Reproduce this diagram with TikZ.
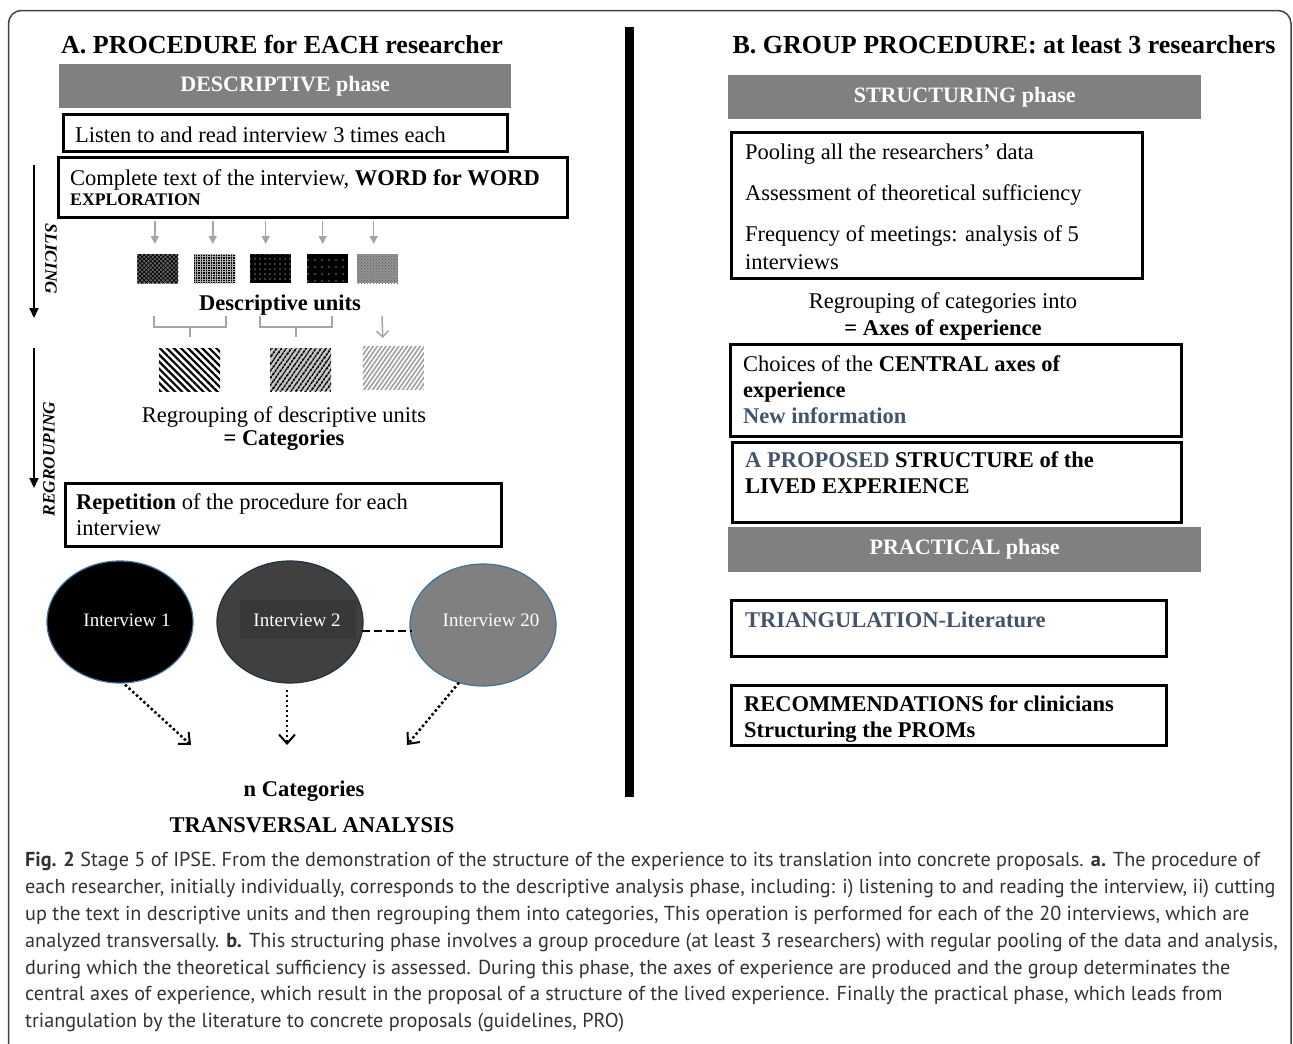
\documentclass[tikz,border=0pt]{standalone}
\usepackage{fontspec}
\setmainfont{Liberation Serif}
\newfontfamily\capfont{PT Sans}
\usetikzlibrary{patterns,patterns.meta,arrows.meta,shapes.geometric,calc}
\definecolor{phasegray}{RGB}{128,128,128}
\definecolor{navyg}{RGB}{68,84,106}
\definecolor{ellblue}{RGB}{65,113,156}
\definecolor{capgray}{RGB}{50,50,50}
\definecolor{darkell}{RGB}{64,64,64}
\definecolor{darkrect}{RGB}{56,56,56}
\definecolor{lightarrow}{RGB}{165,165,165}
\newcommand\fsz[2]{\fontsize{#1pt}{#2pt}\selectfont}
\tikzset{
  phasebar/.style={fill=phasegray, text=white, font=\bfseries\fsz{22}{26}, inner sep=0, anchor=north west},
  framebox/.style={draw=black, line width=3pt, inner sep=0, anchor=north west},
  txt/.style={anchor=base west, inner sep=0, font=\fsz{22.5}{26}},
  ctxt/.style={anchor=base, inner sep=0, font=\fsz{22.5}{26}},
  ttl/.style={anchor=base, inner sep=0, font=\bfseries\fsz{26}{30}},
  unitsq/.style={anchor=north west, inner sep=0, minimum width=41pt, minimum height=29pt},
  catsq/.style={anchor=north west, inner sep=0, minimum width=61pt, minimum height=43pt},
  grayarrow/.style={draw=lightarrow, line width=1.5pt, -{Triangle[length=8pt,width=8pt]}},
  graybrace/.style={draw=lightarrow, line width=1.5pt},
  ell/.style={ellipse, inner sep=0, minimum width=146pt, minimum height=122pt, line width=1.2pt},
  inttext/.style={anchor=center, inner sep=0, text=white, font=\fsz{19}{22}},
  sidearrow/.style={line width=2pt, -{Triangle[length=10pt,width=9pt]}},
  sidelabel/.style={inner sep=0, font=\bfseries\itshape\fsz{17.3}{20}},
  dotarrow/.style={line width=2.5pt, dash pattern=on 2.5pt off 2.5pt, -{Straight Barb[length=9pt,width=16pt,line width=2pt]}},
  capline/.style={anchor=base west, inner sep=0, text=capgray, font=\capfont\fsz{20.2}{26}},
}
\begin{document}
\begin{tikzpicture}[x=1pt,y=-1pt]
\useasboundingbox (0,0) rectangle (1293,1044);
% outer frame
\draw[line width=1.5pt, black!75, rounded corners=13pt] (8.5,1044) -- (8.5,10.5) -- (1291,10.5) -- (1291,1044);

% ===== Left panel =====
\node[ttl] (ta) at (282,53) {A. PROCEDURE for EACH researcher};
\node[phasebar, minimum width=452pt, minimum height=44pt] (desc) at (59,64) {DESCRIPTIVE phase};
\node[framebox, minimum width=444pt, minimum height=37pt] (b1) at (61.5,112.5) {};
\node[txt] (t1) at (75,142) {Listen to and read interview 3 times each};
\node[framebox, minimum width=509pt, minimum height=60pt] (b2) at (56.5,155.5) {};
\node[txt] (t2) at (70,185) {Complete text of the interview, \textbf{WORD for WORD}};
\node[txt, font=\bfseries\fsz{17.7}{20}] (t2b) at (70,205) {EXPLORATION};

% descriptive unit squares
\node[unitsq, preaction={fill=black!60}, pattern={Hatch[angle=45,distance=3pt,line width=0.7pt]}, pattern color=black] (sq1) at (137,254) {};
\node[unitsq, preaction={fill=black}, pattern={Hatch[angle=0,distance=2.5pt,line width=0.5pt]}, pattern color=gray!60] (sq2) at (194,254) {};
\node[unitsq, preaction={fill=black}, pattern={Dots[distance=5pt,radius=0.7pt]}, pattern color=white] (sq3) at (250,254) {};
\node[unitsq, preaction={fill=black}, pattern={Dots[distance=7pt,radius=0.7pt]}, pattern color=white] (sq4) at (307,254) {};
\node[unitsq, preaction={fill=gray!85}, pattern=crosshatch dots, pattern color=black!65] (sq5) at (357,254) {};

\draw[grayarrow] ($(sq1.north)+(-3,-33)$) -- ($(sq1.north)+(-3,-10)$);
\draw[grayarrow] ($(sq2.north)+(-2,-33)$) -- ($(sq2.north)+(-2,-10)$);
\draw[grayarrow] ($(sq3.north)+(-5,-33)$) -- ($(sq3.north)+(-5,-10)$);
\draw[grayarrow] ($(sq4.north)+(-5,-33)$) -- ($(sq4.north)+(-5,-10)$);
\draw[grayarrow] ($(sq5.north)+(-4,-33)$) -- ($(sq5.north)+(-4,-10)$);

\node[ctxt, font=\bfseries\fsz{22.5}{26}] (du) at (280,310) {Descriptive units};

% braces
\draw[graybrace] (154,316) -- (154,327) -- (226,327) -- (226,316);
\draw[graybrace] (190,327) -- (190,337);
\draw[graybrace] (260,316) -- (260,327) -- (332,327) -- (332,316);
\draw[graybrace] (296,327) -- (296,337);

% category squares
\node[catsq, preaction={fill=white}, pattern={Lines[angle=-45,distance=5pt,line width=2.2pt]}, pattern color=black] (h1) at (158,347) {};
\node[catsq, preaction={fill=gray!45}, pattern={Lines[angle=55,distance=4pt,line width=2pt]}, pattern color=black] (h2) at (269,347) {};
\node[catsq, preaction={fill=white}, pattern={Lines[angle=55,distance=3.5pt,line width=1.6pt]}, pattern color=gray!75] (h3) at (362,346) {};
\coordinate (a3s) at (382,316);
\draw[draw=lightarrow, line width=1.5pt, -{Straight Barb[length=6pt,width=12pt,line width=1.5pt]}] (a3s) -- ($(h3.north)+(-10.5,-8)$);

\node[ctxt] (rg1) at (284,422) {Regrouping of descriptive units};
\node[ctxt, font=\bfseries\fsz{22.5}{26}] (rg2) at (284,445) {= Categories};

\node[framebox, minimum width=436pt, minimum height=63pt] (b3) at (63.5,481.5) {};
\node[txt] (t3) at (76,509) {\textbf{Repetition} of the procedure for each};
\node[txt] (t3b) at (76,535) {interview};

% side arrows
\coordinate (s1) at (34,165);
\coordinate (s2) at (34,318);
\coordinate (r1) at (34,348);
\coordinate (r2) at (34,488);
\draw[sidearrow] (s1) -- (s2);
\draw[sidearrow] (r1) -- (r2);
\node[sidelabel, rotate=-90] (sl) at (51,259) {SLICING};
\node[sidelabel, rotate=90] (rl) at (49,459) {REGROUPING};

% interviews
\node[ell, fill=black, draw=ellblue] (e1) at (120,622) {};
\node[ell, fill=darkell, draw=black!55!ellblue] (e2) at (290,622) {};
\node[ell, fill=phasegray, draw=ellblue] (e3) at (483,625) {};
\node[fill=darkrect, inner sep=0, minimum width=116pt, minimum height=39pt] (r2box) at (298,619.5) {};
\node[inttext] (i1) at (127,620) {Interview 1};
\node[inttext] (i2) at (297,620) {Interview 2};
\node[inttext] (i3) at (491,620) {Interview 20};
\draw[line width=2.5pt, dash pattern=on 8pt off 4pt] ($(e2.east)+(-2,9)$) -- ($(e3.west)+(3,6)$);

\coordinate (c1) at (191,745);
\coordinate (c2) at (287,745);
\coordinate (c3) at (407,745);
\draw[dotarrow] ($(e1.south)+(5,1)$) -- (c1);
\draw[dotarrow] ($(e2.south)+(-3,6)$) -- (c2);
\draw[dotarrow] ($(e3.south)+(-24,-4)$) -- (c3);

\node[ctxt, font=\bfseries\fsz{22.5}{26}] (nc) at (304,796) {n Categories};
\node[ctxt, font=\bfseries\fsz{22.5}{26}] (tr) at (312,832) {TRANSVERSAL ANALYSIS};

% divider
\fill (625,27) rectangle (634,797);

% ===== Right panel =====
\node[ttl] (tb) at (1004,53) {B. GROUP PROCEDURE: at least 3 researchers};
\node[phasebar, minimum width=473pt, minimum height=44pt] (struct) at (728,75) {STRUCTURING phase};
\node[framebox, minimum width=411pt, minimum height=146pt] (bs) at (729.5,130.5) {};
\node[txt] (s1t) at (745,159) {Pooling all the researchers' data};
\node[txt] (s2t) at (745,200) {Assessment of theoretical sufficiency};
\node[txt] (s3t) at (745,241) {Frequency of meetings: analysis of 5};
\node[txt] (s4t) at (745,269) {interviews};
\node[ctxt] (ax1) at (943,308) {Regrouping of categories into};
\node[ctxt, font=\bfseries\fsz{22.5}{26}] (ax2) at (943,335) {= Axes of experience};

\node[framebox, minimum width=451pt, minimum height=92pt] (bc) at (728.5,342.5) {};
\node[txt] (c1t) at (743,371) {Choices of the \textbf{CENTRAL axes of}};
\node[txt, font=\bfseries\fsz{22.5}{26}] (c2t) at (743,397) {experience};
\node[txt, font=\bfseries\fsz{22.5}{26}, text=navyg] (c3t) at (743,423) {New information};

\node[framebox, minimum width=449pt, minimum height=80pt] (bd) at (730.5,440.5) {};
\node[txt, font=\bfseries\fsz{22.5}{26}] (d1t) at (745,467) {{\color{navyg}A PROPOSED} STRUCTURE of the};
\node[txt, font=\bfseries\fsz{22.5}{26}] (d2t) at (745,493) {LIVED EXPERIENCE};

\node[phasebar, minimum width=473pt, minimum height=45pt] (pract) at (728,527) {PRACTICAL phase};

\node[framebox, minimum width=435pt, minimum height=56pt] (bt) at (729.5,598.5) {};
\node[txt, font=\bfseries\fsz{22.5}{26}, text=navyg] (tt) at (745,627) {TRIANGULATION-Literature};

\node[framebox, minimum width=435pt, minimum height=60pt] (br) at (729.5,683.5) {};
\node[txt, font=\bfseries\fsz{22.5}{26}] (rt1) at (744,711) {RECOMMENDATIONS for clinicians};
\node[txt, font=\bfseries\fsz{22.5}{26}] (rt2) at (744,737) {Structuring the PROMs};

% ===== Caption =====
\node[capline] (cap1) at (25,866) {\textbf{Fig. 2} Stage 5 of IPSE. From the demonstration of the structure of the experience to its translation into concrete proposals. \textbf{a.} The procedure of};
\node[capline] (cap2) at (25,893) {each researcher, initially individually, corresponds to the descriptive analysis phase, including: i) listening to and reading the interview, ii) cutting};
\node[capline] (cap3) at (25,920) {up the text in descriptive units and then regrouping them into categories, This operation is performed for each of the 20 interviews, which are};
\node[capline] (cap4) at (25,947) {analyzed transversally. \textbf{b.} This structuring phase involves a group procedure (at least 3 researchers) with regular pooling of the data and analysis,};
\node[capline] (cap5) at (25,974) {during which the theoretical sufficiency is assessed. During this phase, the axes of experience are produced and the group determinates the};
\node[capline] (cap6) at (25,1000) {central axes of experience, which result in the proposal of a structure of the lived experience. Finally the practical phase, which leads from};
\node[capline] (cap7) at (25,1027) {triangulation by the literature to concrete proposals (guidelines, PRO)};
\end{tikzpicture}
\end{document}
